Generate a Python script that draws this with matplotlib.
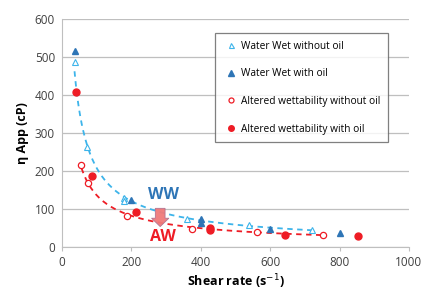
import matplotlib
matplotlib.use('Agg')
import matplotlib.pyplot as plt
import numpy as np

# data
ww_no_oil_x = [36, 72, 180, 180, 360, 540, 720]
ww_no_oil_y = [488, 264, 130, 122, 75, 57, 46]
ww_oil_x = [38, 200, 400, 400, 600, 800]
ww_oil_y = [517, 125, 75, 64, 48, 38]
aw_no_oil_x = [56, 75, 188, 376, 563, 752]
aw_no_oil_y = [215, 169, 83, 48, 40, 33]
aw_oil_x = [40, 86, 213, 427, 427, 642, 854]
aw_oil_y = [409, 186, 92, 51, 46, 31, 29]

light_blue = '#3db4ea'
dark_blue = '#2e75b6'
red = '#ee1c25'

plt.rcParams['font.family'] = ['Open Sans', 'DejaVu Sans']

fig = plt.figure(figsize=(4.22, 2.89), dpi=100)
ax = fig.add_axes([0.147, 0.145, 0.822, 0.789])

# power-law trend lines fitted on the "without oil" series
def power_fit(xs, ys):
    b, a = np.polyfit(np.log(xs), np.log(ys), 1)
    xx = np.linspace(min(xs), max(xs), 200)
    return xx, np.exp(a) * xx ** b

xx, yy = power_fit(ww_no_oil_x, ww_no_oil_y)
ax.plot(xx, yy, color=light_blue, ls=(0, (3, 2.5)), lw=1.3, zorder=2)
xx, yy = power_fit(aw_no_oil_x, aw_no_oil_y)
ax.plot(xx, yy, color=red, ls=(0, (3, 2.5)), lw=1.3, zorder=2)

ax.plot(ww_no_oil_x, ww_no_oil_y, ls='none', marker='^', ms=4.5, mfc='white',
        mec=light_blue, mew=0.8, label='Water Wet without oil', zorder=3)
ax.plot(ww_oil_x, ww_oil_y, ls='none', marker='^', ms=5, color=dark_blue,
        label='Water Wet with oil', zorder=3)
ax.plot(aw_no_oil_x, aw_no_oil_y, ls='none', marker='o', ms=4.5, mfc='white',
        mec=red, mew=0.9, label='Altered wettability without oil', zorder=3)
ax.plot(aw_oil_x, aw_oil_y, ls='none', marker='o', ms=5, color=red,
        label='Altered wettability with oil', zorder=3)

# arrow WW -> AW
ax.arrow(283, 102, 0, -48, width=28, head_width=50, head_length=22,
         length_includes_head=True, fc='#f07a7a', ec='#b07090', lw=0.6,
         alpha=0.95, zorder=4)
ax.text(292, 137, 'WW', color=dark_blue, fontsize=11.5, fontweight='bold',
        ha='center', va='center')
ax.text(290, 27, 'AW', color=red, fontsize=11.5, fontweight='bold',
        ha='center', va='center')

ax.set_xlim(0, 1000)
ax.set_ylim(0, 600)
ax.set_xticks(range(0, 1001, 200))
ax.set_yticks(range(0, 601, 100))
ax.yaxis.grid(True, color='#bfbfbf', lw=0.9)
ax.set_axisbelow(True)
for s in ['top', 'right']:
    ax.spines[s].set_visible(False)
for s in ['left', 'bottom']:
    ax.spines[s].set_color('#bfbfbf')
ax.tick_params(axis='both', labelsize=8.5, colors='#404040', length=3, color='#bfbfbf')
ax.tick_params(axis='y', length=0, pad=5)

ax.set_xlabel('Shear rate (s$^{-1}$)', fontsize=9, fontweight='bold', labelpad=2)
ax.set_ylabel('η App (cP)', fontsize=9, fontweight='bold', labelpad=4)

leg = ax.legend(loc='upper right', bbox_to_anchor=(0.939, 0.939), fontsize=7.3,
                frameon=True, fancybox=False, markerscale=0.8, handlelength=1.6,
                handletextpad=0.15, labelspacing=1.65, borderpad=0.75, borderaxespad=0)
leg.get_frame().set_edgecolor('#606060')
leg.get_frame().set_linewidth(0.9)

fig.savefig('out.png', dpi=100)
